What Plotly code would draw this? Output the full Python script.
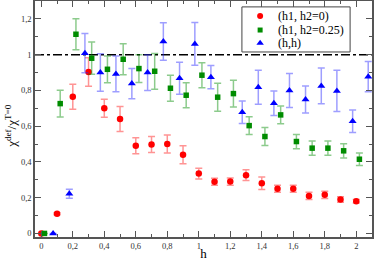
import plotly.graph_objects as go

# (h1, h2=0)
red_h = [0, 0.1, 0.2, 0.3, 0.4, 0.5, 0.6, 0.7, 0.8, 0.9, 1.0, 1.1, 1.2, 1.3, 1.4, 1.5, 1.6, 1.7, 1.8, 1.9, 2.0]
red_v = [0, 0.11, 0.764, 0.903, 0.70, 0.64, 0.49, 0.497, 0.50, 0.44, 0.335, 0.289, 0.29, 0.326, 0.28, 0.25, 0.25, 0.21, 0.216, 0.19, 0.18]
red_e = [0, 0.005, 0.07, 0.08, 0.05, 0.07, 0.045, 0.045, 0.05, 0.05, 0.03, 0.02, 0.02, 0.03, 0.035, 0.02, 0.02, 0.02, 0.02, 0.015, 0.01]

# (h1, h2=0.25)
green_h = [0.02, 0.12, 0.22, 0.32, 0.42, 0.52, 0.62, 0.72, 0.82, 0.92, 1.02, 1.12, 1.22, 1.32, 1.42, 1.52, 1.62, 1.72, 1.82, 1.92, 2.02]
green_v = [0, 0.726, 1.114, 0.98, 0.918, 0.974, 0.922, 0.907, 0.812, 0.773, 0.885, 0.762, 0.782, 0.603, 0.542, 0.663, 0.514, 0.477, 0.477, 0.462, 0.415]
green_e = [0, 0.075, 0.087, 0.09, 0.075, 0.087, 0.078, 0.1, 0.073, 0.07, 0.07, 0.078, 0.075, 0.05, 0.05, 0.05, 0.04, 0.04, 0.04, 0.04, 0.035]

# (h,h)
blue_h = [0.075, 0.178, 0.277, 0.375, 0.474, 0.575, 0.675, 0.775, 0.878, 0.975, 1.077, 1.276, 1.378, 1.477, 1.576, 1.678, 1.778, 1.877, 1.977, 2.076]
blue_v = [0, 0.222, 1.008, 0.90, 0.892, 0.838, 0.90, 1.073, 0.868, 1.06, 0.874, 0.678, 0.818, 0.728, 0.80, 0.749, 0.825, 0.797, 0.628, 0.877]
blue_e = [0, 0.025, 0.11, 0.105, 0.1, 0.085, 0.1, 0.105, 0.09, 0.12, 0.065, 0.063, 0.095, 0.069, 0.095, 0.076, 0.1, 0.115, 0.063, 0.085]

series_names = ["(h1, h2=0)", "(h1, h2=0.25)", "(h,h)"]
ref_level = 1.0
FONT = "Liberation Serif"

fig = go.Figure()

fig.add_trace(go.Scatter(
    x=[-0.04, 2.1], y=[ref_level, ref_level], mode="lines",
    line=dict(color="black", width=1.5, dash="dashdot"),
    showlegend=False, hoverinfo="skip"))

styles = [
    ("#ff0000", "rgba(255,60,60,0.55)", "circle", 6.5),
    ("#008c00", "rgba(0,140,0,0.45)", "square", 5.5),
    ("#0000ff", "rgba(40,40,255,0.45)", "triangle-up", 7),
]
data = [(red_h, red_v, red_e), (green_h, green_v, green_e), (blue_h, blue_v, blue_e)]
for name, (xs, ys, es), (col, ecol, sym, sz) in zip(series_names, data, styles):
    fig.add_trace(go.Scatter(
        x=xs, y=ys, mode="markers", name=name, showlegend=False,
        marker=dict(color=col, symbol=sym, size=sz, line=dict(width=0)),
        error_y=dict(type="data", array=es, visible=True, color=ecol,
                     thickness=1.5, width=3.5),
    ))

# compact legend drawn on an overlay axis in plot-fraction units
leg_x0, leg_x1, leg_y0, leg_y1 = 0.614, 0.935, 0.784, 0.975
leg_sym_x, leg_txt_x = 0.668, 0.715
leg_rows = [0.936, 0.877, 0.822]
fig.add_shape(type="rect", xref="paper", yref="paper", x0=leg_x0, x1=leg_x1,
              y0=leg_y0, y1=leg_y1, line=dict(color="#444444", width=1),
              fillcolor="white", layer="below")
for name, (col, ecol, sym, sz), ry in zip(series_names, styles, leg_rows):
    fig.add_trace(go.Scatter(
        x=[leg_sym_x], y=[ry], xaxis="x2", yaxis="y2", mode="markers",
        marker=dict(color=col, symbol=sym, size=sz - 0.5, line=dict(width=0)),
        showlegend=False, hoverinfo="skip"))
    fig.add_annotation(x=leg_txt_x, y=ry, xref="paper", yref="paper", text=name,
                       showarrow=False, xanchor="left", yanchor="middle",
                       font=dict(family=FONT, size=12, color="black"))

axis_common = dict(
    showline=True, linecolor="#555555", linewidth=1.5, mirror="ticks",
    ticks="inside", ticklen=6, tickwidth=1, tickcolor="#555555",
    showgrid=False, zeroline=False, automargin=False,
    tickfont=dict(family=FONT, size=8.5, color="#333333"),
)

fig.add_annotation(x=-0.072, y=0.47, xref="paper", yref="paper",
                   text="χ<sup>def</sup>/χ<sup>T=0</sup>", textangle=-90,
                   showarrow=False, xanchor="center", yanchor="middle",
                   font=dict(family=FONT, size=13, color="black"))

fig.update_layout(
    width=374, height=261,
    margin=dict(l=35, r=2, t=1, b=24),
    paper_bgcolor="white", plot_bgcolor="white",
    separators=", ",
    showlegend=False,
    font=dict(family=FONT, color="black"),
    xaxis=dict(range=[-0.04, 2.1], dtick=0.2, tick0=0,
               minor=dict(dtick=0.1, ticklen=3, ticks="inside", tickcolor="#555555"),
               title=dict(text="h", font=dict(family=FONT, size=13), standoff=0),
               **axis_common),
    yaxis=dict(range=[-0.02, 1.30], dtick=0.2, tick0=0,
               minor=dict(dtick=0.1, ticklen=3, ticks="inside", tickcolor="#555555"),
               **axis_common),
    xaxis2=dict(overlaying="x", range=[0, 1], visible=False, fixedrange=True),
    yaxis2=dict(overlaying="y", range=[0, 1], visible=False, fixedrange=True),
)

fig.write_html("out.html", config={"displayModeBar": False},
               post_script="document.body.style.margin='0';document.body.style.padding='0';")
